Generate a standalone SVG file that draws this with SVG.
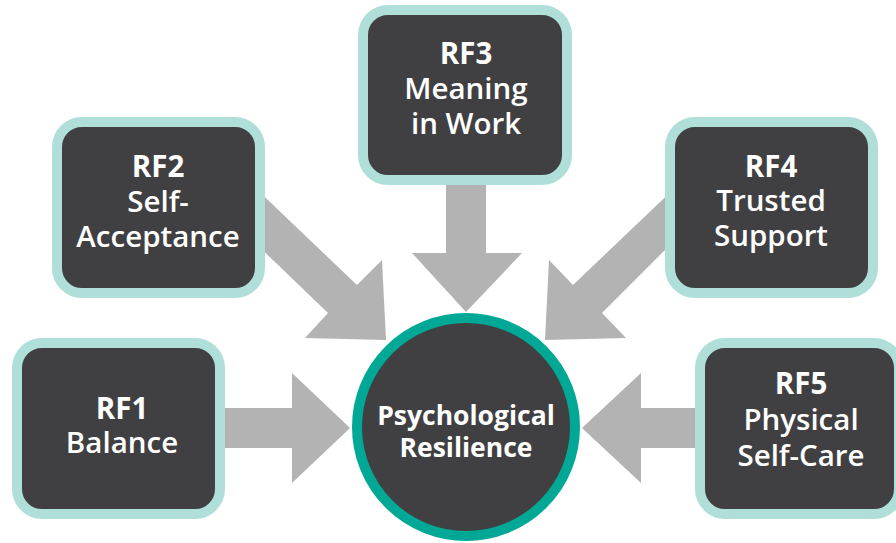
<svg xmlns="http://www.w3.org/2000/svg" width="896" height="543" viewBox="0 0 896 543">
  <style>
    .box { fill: #404042; stroke: #B0DFD9; stroke-width: 10; }
    .hub { fill: #404042; stroke: #00A895; stroke-width: 10; }
    .arrow { fill: #B3B3B3; }
    text { font-family: "Open Sans", "Noto Sans", "DejaVu Sans", sans-serif; fill: #FFFFFF; text-anchor: middle; font-size: 29.5px; font-weight: 600; }
    .b { font-weight: 700; }
    .hubtxt { font-weight: 700; font-size: 26.5px; }
  </style>
  <rect width="896" height="543" fill="#FFFFFF"/>
  <g id="connectors">
    <polygon class="arrow" points="215,408 292,408 292,373 350,428 292,483 292,448 215,448"/>
    <polygon class="arrow" points="250,183 357,285 382,260 386,340 305,338 328,313 250,238"/>
    <polygon class="arrow" points="446,180 486,180 486,253 522,253 466,312 412,253 446,253"/>
    <polygon class="arrow" points="680,183 573,285 549,260 545,340 626,338 602,313 680,235"/>
    <polygon class="arrow" points="705,408 641,408 641,373 582,428 641,483 641,448 705,448"/>
  </g>
  <g id="hub">
    <circle class="hub" cx="466" cy="427" r="109"/>
    <text class="hubtxt" x="466" y="425">Psychological</text>
    <text class="hubtxt" x="466" y="457">Resilience</text>
  </g>
  <g id="rf1">
    <rect class="box" x="17" y="343" width="203" height="171" rx="25"/>
    <text class="b" x="122" y="419">RF1</text>
    <text x="122" y="453">Balance</text>
  </g>
  <g id="rf2">
    <rect class="box" x="57" y="122" width="203" height="171" rx="25"/>
    <text class="b" x="158" y="177">RF2</text>
    <text x="158" y="212">Self-</text>
    <text x="158" y="247">Acceptance</text>
  </g>
  <g id="rf3">
    <rect class="box" x="363" y="10" width="204" height="170" rx="25"/>
    <text class="b" x="466" y="64">RF3</text>
    <text x="466" y="99">Meaning</text>
    <text x="466" y="134">in Work</text>
  </g>
  <g id="rf4">
    <rect class="box" x="670" y="122" width="203" height="171" rx="25"/>
    <text class="b" x="771" y="177">RF4</text>
    <text x="771" y="211">Trusted</text>
    <text x="771" y="246">Support</text>
  </g>
  <g id="rf5">
    <rect class="box" x="700" y="343" width="199" height="171" rx="25"/>
    <text class="b" x="801" y="394">RF5</text>
    <text x="801" y="430">Physical</text>
    <text x="801" y="466">Self-Care</text>
  </g>
</svg>
